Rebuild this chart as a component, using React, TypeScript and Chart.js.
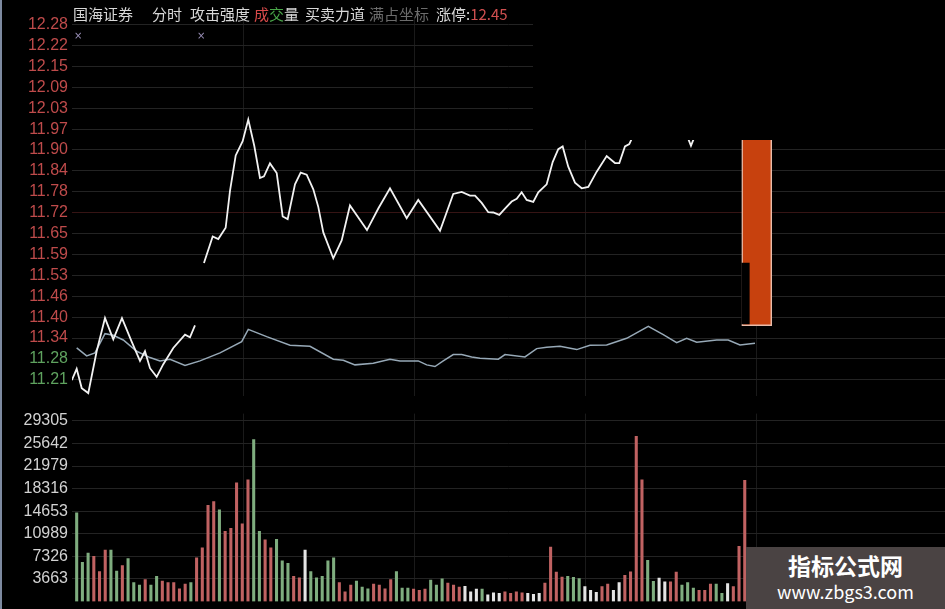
import React, { useEffect, useRef } from 'react';
import { Chart, registerables } from 'chart.js';

Chart.register(...registerables);

// ---------- data ----------
const priceTickLabels = ['12.28', '12.22', '12.15', '12.09', '12.03', '11.97', '11.90', '11.84', '11.78', '11.72', '11.65', '11.59', '11.53', '11.46', '11.40', '11.34', '11.28', '11.21'];
const volumeTickLabels = ['29305', '25642', '21979', '18316', '14653', '10989', '7326', '3663'];
const prevClose = 11.32;
const limitUpText = '12.45';
const timeGridMinutes = [29.2, 59.2, 89.1, 119.1];

// 攻击强度 line (minute, value); null = break
const priceMinutes = [
  -0.85, 0.0, 0.88, 2.03, 3.5, 4.96, 6.41, 7.93, 9.63, 11.09, 11.96, 12.84, 14.01, 15.17, 16.92, 18.97, 19.84, 20.72,
  21.5,
  22.29, 23.82, 24.8, 26.09, 26.85, 27.85, 29.07, 30.05, 31.1, 32.1, 32.8, 33.85, 35.03, 36.08, 36.95, 38.23, 39.23, 40.28,
  41.44, 42.31, 43.19, 44.94, 46.41, 47.86, 50.84, 52.82, 54.87, 57.79, 59.82, 63.63, 65.95, 67.43, 68.88, 69.76, 70.93,
  72.08, 72.96, 74.01, 75.01, 76.18, 77.06, 77.93, 78.81, 79.96, 80.84, 82.31, 83.36, 84.34, 85.11, 86.09, 87.27, 88.44,
  89.6, 91.07, 92.82, 94.27, 95.03, 96.02, 96.78, 97.2,
  100.0,
  107.06, 107.58, 108.11,
];
const priceValues = [
  11.209, 11.243, 11.185, 11.17, 11.296, 11.396, 11.332, 11.396, 11.325, 11.267, 11.296, 11.245, 11.219, 11.257, 11.306, 11.346, 11.338, 11.374,
  null,
  11.562, 11.642, 11.634, 11.668, 11.779, 11.886, 11.929, 11.994, 11.915, 11.818, 11.823, 11.862, 11.833, 11.702, 11.694, 11.799, 11.834, 11.828,
  11.784, 11.731, 11.654, 11.576, 11.63, 11.735, 11.661, 11.726, 11.787, 11.697, 11.752, 11.659, 11.77, 11.776, 11.765, 11.765, 11.743,
  11.715, 11.714, 11.707, 11.726, 11.747, 11.755, 11.775, 11.752, 11.746, 11.775, 11.799, 11.866, 11.905, 11.913, 11.852, 11.804, 11.787,
  11.791, 11.837, 11.884, 11.863, 11.863, 11.913, 11.92, 11.936,
  null,
  11.938, 11.915, 11.938,
];

// average price line
const avgMinutes = [
  0.0, 1.75, 3.2, 4.96, 6.41, 8.16, 10.51, 12.84, 14.59, 16.34, 18.97, 21.59, 25.1, 28.9, 30.05, 33.27, 37.36, 40.86,
  44.94, 46.69, 48.74, 51.94, 54.87, 56.62, 59.82, 61.3, 62.75, 64.2, 65.95, 67.43, 69.18, 70.63, 73.84, 75.01, 78.51,
  80.56, 82.31, 84.64, 87.57, 89.89, 92.82, 96.32, 100.11, 102.73, 105.08, 106.83, 108.58, 112.08, 114.1, 116.16, 118.79,
];
const avgValues = [
  11.306, 11.282, 11.291, 11.349, 11.344, 11.33, 11.296, 11.277, 11.267, 11.272, 11.253, 11.267, 11.291, 11.325, 11.362, 11.34, 11.314, 11.311,
  11.272, 11.269, 11.255, 11.26, 11.272, 11.267, 11.267, 11.255, 11.25, 11.267, 11.286, 11.286, 11.279, 11.275, 11.272, 11.286, 11.279,
  11.304, 11.308, 11.311, 11.301, 11.314, 11.315, 11.335, 11.371, 11.346, 11.322, 11.335, 11.323, 11.33, 11.33, 11.315, 11.32,
];

// 买卖力道 bar
const forceBarMinute = 119.1;
const forceBarRange = [11.373, 11.942];
const forceGapMinute = 117.13;
const forceGapRange = [11.378, 11.562];

// volume per minute
const volumes = [
  14370, 6330, 7840, 7330, 4830, 8340, 8340, 4920, 5820, 6940,
  3060, 2660, 3560, 2660, 4070, 3320, 3060, 3060, 2060, 2810,
  3060, 7080, 8690, 15620, 16230, 14870, 11360, 11860, 19250, 12610,
  19750, 26280, 11360, 10000, 8690, 10100, 6580, 6180, 4070, 3820,
  8340, 4830, 3820, 4070, 6580, 7080, 3060, 1550, 2660, 3320,
  2310, 2060, 2810, 2660, 2060, 3560, 4830, 2160, 2160, 2010,
  1810, 2010, 3470, 2660, 3670, 2960, 2660, 2310, 2460, 1550,
  2010, 2010, 1060, 1400, 1300, 1550, 1300, 1550, 1400, 1300,
  1150, 1300, 2960, 8840, 4780, 3970, 4070, 3920, 3720, 2410,
  1810, 1460, 2410, 2810, 1810, 3060, 4220, 4820, 26800, 19740,
  6680, 3270, 3770, 3170, 3170, 4770, 2660, 3060, 2160, 1810,
  1810, 2810, 2810, 1300, 2910, 2410, 8940, 19650,
];
// 1 = up (red), -1 = down (green), 0 = flat (white)
const volumeDirection = [
  -1, -1, -1, 1, 1, 1, -1, -1, 1, -1,
  -1, -1, 1, -1, -1, 1, 1, 1, 1, 1,
  -1, 1, 1, 1, 1, -1, 1, 1, 1, 1,
  1, -1, -1, 1, 1, -1, -1, -1, 1, 1,
  0, -1, -1, -1, -1, -1, 1, 1, 1, -1,
  -1, -1, 1, 1, 1, 1, -1, -1, -1, 1,
  1, 1, -1, -1, -1, 1, 1, 1, 0, 0,
  0, -1, 0, 0, 0, 1, 1, 1, 1, 0,
  0, 0, 1, 1, 1, 1, -1, -1, -1, 0,
  0, 0, 1, 1, 0, 0, 1, 1, 1, 1,
  -1, -1, 0, 0, 1, 1, -1, -1, -1, 1,
  1, 1, -1, -1, 0, 1, 1, 1,
];

// ---------- styles ----------
const BG = '#000000';
const GRID = '#232323';
const LABEL_RED = '#bf4b4b';
const LABEL_GREEN = '#5fa35f';
const AXIS_FONT = { family: '"Liberation Sans", Arial, sans-serif', size: 16 };
const X_MIN = -0.82;
const X_MAX = 152.07;

function xScale() {
  return {
    type: 'linear' as const,
    min: X_MIN,
    max: X_MAX,
    offset: false,
    afterFit: (s: any) => { s.height = 0; },
    afterBuildTicks: (s: any) => { s.ticks = timeGridMinutes.map((v) => ({ value: v })); },
    ticks: { display: false },
    grid: { color: '#1a1a1a', drawTicks: false, lineWidth: 1, offset: false },
    border: { display: false },
  };
}

const priceTickValues = (() => {
  const top = Number(priceTickLabels[0]);
  const bot = Number(priceTickLabels[priceTickLabels.length - 1]);
  const n = priceTickLabels.length - 1;
  return priceTickLabels.map((_, i) => top - (i * (top - bot)) / n);
})();

export default function App() {
  const priceRef = useRef<HTMLCanvasElement | null>(null);
  const volRef = useRef<HTMLCanvasElement | null>(null);

  useEffect(() => {
    const priceData = priceMinutes.map((m, i) => ({ x: m, y: priceValues[i] }));
    const avgData = avgMinutes.map((m, i) => ({ x: m, y: avgValues[i] }));

    const priceChart = new Chart(priceRef.current as HTMLCanvasElement, {
      type: 'line',
      data: {
        datasets: [
          {
            type: 'line',
            data: priceData as any,
            borderColor: '#f2f2f2',
            borderWidth: 1.8,
            pointRadius: 0,
            tension: 0,
            spanGaps: false,
            order: 0,
          },
          {
            type: 'line',
            data: avgData as any,
            borderColor: '#97a9b7',
            borderWidth: 1.5,
            pointRadius: 0,
            tension: 0,
            order: 0,
          },
          {
            type: 'bar',
            data: [{ x: forceGapMinute, y: forceGapRange }] as any,
            backgroundColor: BG,
            borderWidth: 0,
            barThickness: 7.6,
            grouped: false,
            order: 1,
          } as any,
          {
            type: 'bar',
            data: [{ x: forceBarMinute, y: forceBarRange }] as any,
            backgroundColor: '#c7410e',
            borderColor: '#e8bcaa',
            borderWidth: 1.5,
            borderSkipped: false,
            barThickness: 30,
            grouped: false,
            order: 2,
          } as any,
        ],
      },
      options: {
        animation: false,
        responsive: false,
        maintainAspectRatio: false,
        layout: { padding: { top: 18, right: 0, bottom: 0, left: 0 } },
        plugins: { legend: { display: false }, tooltip: { enabled: false } },
        events: [],
        scales: {
          x: xScale() as any,
          y: {
            type: 'linear',
            min: 11.16,
            max: 12.3,
            afterFit: (s: any) => { s.width = 72; },
            afterBuildTicks: (s: any) => { s.ticks = priceTickValues.map((v) => ({ value: v })); },
            ticks: {
              autoSkip: false,
              padding: 4,
              font: AXIS_FONT,
              callback: (_v: any, i: number) => priceTickLabels[i],
              color: (ctx: any) => (ctx.tick && ctx.tick.value > prevClose ? LABEL_RED : LABEL_GREEN),
            },
            grid: {
              drawTicks: false,
              color: (ctx: any) => (priceTickLabels[ctx.index] === '11.72' ? '#361414' : GRID),
            },
            border: { display: false },
          },
        },
      },
    });

    const volChart = new Chart(volRef.current as HTMLCanvasElement, {
      type: 'bar',
      data: {
        datasets: [
          {
            data: volumes.map((v, i) => ({ x: i, y: v })) as any,
            backgroundColor: volumeDirection.map((d) => (d > 0 ? '#c06262' : d < 0 ? '#7fad7f' : '#e4e4e4')),
            borderWidth: 0,
            barThickness: 2.4,
            grouped: false,
          } as any,
        ],
      },
      options: {
        animation: false,
        responsive: false,
        maintainAspectRatio: false,
        layout: { padding: { top: 8, right: 0, bottom: 4.7, left: 0 } },
        plugins: { legend: { display: false }, tooltip: { enabled: false } },
        events: [],
        scales: {
          x: xScale() as any,
          y: {
            type: 'linear',
            min: 0,
            max: 30500,
            afterFit: (s: any) => { s.width = 72; },
            afterBuildTicks: (s: any) => { s.ticks = volumeTickLabels.map((l) => ({ value: Number(l) })); },
            ticks: {
              autoSkip: false,
              padding: 4,
              font: AXIS_FONT,
              color: '#d2d2d2',
              callback: (_v: any, i: number) => volumeTickLabels[i],
            },
            grid: { drawTicks: false, color: GRID },
            border: { display: false },
          },
        },
      },
    });

    return () => {
      priceChart.destroy();
      volChart.destroy();
    };
  }, []);

  const hdr: React.CSSProperties = {
    position: 'absolute',
    top: 4,
    fontSize: 15,
    lineHeight: '20px',
    fontFamily: '"Noto Sans CJK SC", sans-serif',
    color: '#d8d8d8',
    whiteSpace: 'nowrap',
  };
  const mark: React.CSSProperties = {
    position: 'absolute',
    top: 29,
    fontSize: 10,
    lineHeight: '14px',
    color: '#9a90b8',
    fontFamily: '"DejaVu Sans", sans-serif',
  };

  return (
    <div
      style={{
        position: 'fixed',
        left: 0,
        top: 0,
        width: 945,
        height: 609,
        background: BG,
        overflow: 'hidden',
      }}
    >
      <canvas ref={priceRef} width={945} height={410} style={{ position: 'absolute', left: 0, top: 0, width: 945, height: 410 }} />
      <canvas ref={volRef} width={945} height={215} style={{ position: 'absolute', left: 0, top: 400, width: 945, height: 215 }} />
      <div style={{ position: 'absolute', left: 533, top: 0, width: 412, height: 140, background: BG }} />
      <div style={{ position: 'absolute', left: 0, top: 0, width: 2, height: 609, background: '#7d8aa0' }} />

      <span style={{ ...hdr, left: 73 }}>国海证券</span>
      <span style={{ ...hdr, left: 152 }}>分时</span>
      <span style={{ ...hdr, left: 190 }}>攻击强度</span>
      <span style={{ ...hdr, left: 254 }}>
        <span style={{ color: '#d84a4a' }}>成</span>
        <span style={{ color: '#4aa84a' }}>交</span>
        <span>量</span>
      </span>
      <span style={{ ...hdr, left: 305 }}>买卖力道</span>
      <span style={{ ...hdr, left: 369, color: '#6c6c6c' }}>满占坐标</span>
      <span style={{ ...hdr, left: 436 }}>
        涨停:<span style={{ color: '#d05050' }}>{limitUpText}</span>
      </span>
      <span style={{ ...mark, left: 74 }}>×</span>
      <span style={{ ...mark, left: 197 }}>×</span>

      <div
        style={{
          position: 'absolute',
          left: 746,
          top: 547,
          width: 199,
          height: 62,
          background: '#4a4343',
          color: '#ffffff',
          textAlign: 'center',
          fontFamily: '"Noto Sans CJK SC", sans-serif',
        }}
      >
        <div style={{ fontSize: 23, fontWeight: 700, lineHeight: '28px', marginTop: 4 }}>指标公式网</div>
        <div style={{ fontSize: 18, lineHeight: '24px' }}>www.zbgs3.com</div>
      </div>
    </div>
  );
}
